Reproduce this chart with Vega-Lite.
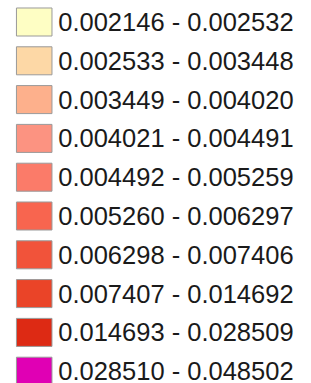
{
  "$schema": "https://vega.github.io/schema/vega-lite/v6.json",
  "width": 311,
  "height": 383,
  "autosize": {"type": "none"},
  "padding": 0,
  "background": "white",
  "config": {"view": {"stroke": null}},
  "data": {"values": [
    {"label": "0.002146 - 0.002532", "color": "#FEFEC4"},
    {"label": "0.002533 - 0.003448", "color": "#FDD8A6"},
    {"label": "0.003449 - 0.004020", "color": "#FDB08C"},
    {"label": "0.004021 - 0.004491", "color": "#FC9381"},
    {"label": "0.004492 - 0.005259", "color": "#FB7B69"},
    {"label": "0.005260 - 0.006297", "color": "#F8654F"},
    {"label": "0.006298 - 0.007406", "color": "#F1533A"},
    {"label": "0.007407 - 0.014692", "color": "#EA4428"},
    {"label": "0.014693 - 0.028509", "color": "#DD2A14"},
    {"label": "0.028510 - 0.048502", "color": "#E000B4"}
  ]},
  "encoding": {
    "y": {"field": "label", "type": "ordinal", "sort": null, "axis": null,
      "scale": {"range": [2.6, 390.6], "paddingInner": 0.278, "paddingOuter": 0.139}}
  },
  "layer": [
    {
      "mark": {"type": "rect", "stroke": "#9a9a9a", "strokeWidth": 1},
      "encoding": {
        "x": {"datum": 18.5, "type": "quantitative", "scale": {"domain": [0, 311], "range": [0, 311]}, "axis": null},
        "x2": {"datum": 58.5},
        "color": {"field": "color", "type": "nominal", "scale": null, "legend": null}
      }
    },
    {
      "mark": {"type": "text", "align": "left", "baseline": "middle", "font": "Liberation Sans", "fontSize": 25.5, "color": "#1a1a1a", "dy": 1},
      "encoding": {
        "x": {"datum": 65.5, "type": "quantitative"},
        "text": {"field": "label"}
      }
    }
  ]
}
